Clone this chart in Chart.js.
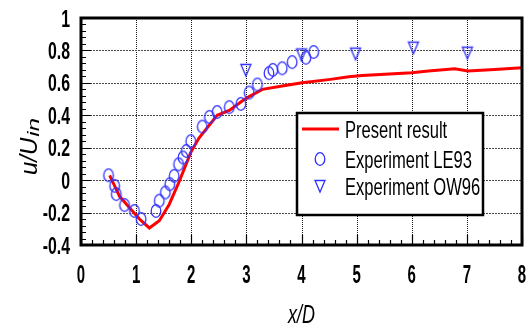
<!DOCTYPE html>
<html>
<head>
<meta charset="utf-8">
<script src="https://cdn.jsdelivr.net/npm/chart.js@4/dist/chart.umd.min.js"></script>
<style>
  html, body { margin: 0; padding: 0; background: #fff; }
  #mycanvas { display: block; }
</style>
</head>
<body>
<canvas id="mycanvas" width="529" height="329"></canvas>
<script>
// present result (solid red curve)
var simX = [0.52, 0.70, 0.88, 1.06, 1.24, 1.42, 1.60, 1.78, 1.99, 2.14, 2.47, 2.69, 2.93, 3.05, 3.29, 3.65, 4.01, 4.49, 4.86, 5.10, 6.00, 6.30, 6.78, 7.02, 7.50, 8.00];
var simY = [0.03, -0.10, -0.17, -0.24, -0.295, -0.25, -0.15, -0.01, 0.17, 0.26, 0.40, 0.43, 0.49, 0.515, 0.56, 0.58, 0.60, 0.62, 0.638, 0.646, 0.663, 0.673, 0.687, 0.673, 0.683, 0.693];

// experiment LE93 (circles)
var le93X = [0.50, 0.61, 0.64, 0.79, 0.97, 1.09, 1.36, 1.42, 1.53, 1.61, 1.69, 1.77, 1.85, 1.91, 1.99, 2.20, 2.33, 2.47, 2.69, 2.90, 3.05, 3.20, 3.41, 3.48, 3.65, 3.83, 4.08, 4.22];
var le93Y = [0.03, -0.035, -0.086, -0.154, -0.19, -0.24, -0.19, -0.127, -0.076, -0.025, 0.026, 0.098, 0.14, 0.18, 0.24, 0.33, 0.39, 0.42, 0.45, 0.47, 0.54, 0.59, 0.66, 0.68, 0.69, 0.728, 0.755, 0.79];

// experiment OW96 (triangles)
var ow96X = [2.99, 4.00, 4.98, 6.03, 7.01];
var ow96Y = [0.68, 0.775, 0.78, 0.817, 0.786];

var xMin = 0, xMax = 8, xStep = 1;
var yMin = -0.4, yMax = 1, yStep = 0.2;
var xTitle = 'x/D';
var yTitle = 'u/U', yTitleSub = 'in';

var SANS = "'Liberation Sans', Arial, sans-serif";
var BLUE = '#3030ff';

function toPoints(xs, ys){
    var pts = [];
    for(var i in xs){
        pts.push({x: xs[i], y: ys[i]});
    }
    return pts;
}

// tall hollow markers (the original picture is stretched vertically)
function makeMarker(kind){
    var c = document.createElement('canvas');
    c.width = 14; c.height = 16;
    var g = c.getContext('2d');
    g.strokeStyle = BLUE;
    g.lineWidth = 1.3;
    g.beginPath();
    if(kind == 'circle'){
        g.ellipse(7, 8, 4.8, 6.3, 0, 0, Math.PI * 2);
    } else {
        g.moveTo(2, 2.5);
        g.lineTo(12, 2.5);
        g.lineTo(7, 14);
        g.closePath();
    }
    g.stroke();
    return c;
}
var circleImg = makeMarker('circle');
var triImg = makeMarker('triangle');

// draw text squeezed horizontally
function squeezeText(ctx, text, x, y, sx, align){
    ctx.save();
    ctx.translate(x, y);
    ctx.scale(sx, 1);
    ctx.textAlign = align;
    ctx.fillText(text, 0, 0);
    ctx.restore();
}

// dotted grid under the data (dots drawn one by one)
var gridLines = {
    id: 'gridLines',
    beforeDatasetsDraw: function(chart){
        var ctx = chart.ctx;
        var ca = chart.chartArea;
        var xs = chart.scales.x, ys = chart.scales.y;
        ctx.save();
        ctx.fillStyle = '#1a1a1a';
        xs.ticks.forEach(function(t){
            var px = Math.round(xs.getPixelForValue(t.value));
            for(var y = Math.round(ca.top); y < ca.bottom; y += 2){
                ctx.fillRect(px, y, 1, 1);
            }
        });
        ctx.fillStyle = '#4a4a4a';
        ys.ticks.forEach(function(t){
            var py = Math.round(ys.getPixelForValue(t.value));
            for(var x = Math.round(ca.left); x < ca.right; x += 3){
                ctx.fillRect(x, py, 2, 1);
            }
        });
        ctx.restore();
    }
};

// box, inward ticks, tick labels, titles and the legend
var decorations = {
    id: 'decorations',
    afterDraw: function(chart){
        var ctx = chart.ctx;
        var ca = chart.chartArea;
        var xs = chart.scales.x, ys = chart.scales.y;
        ctx.save();

        // minor / major ticks pointing inside
        ctx.strokeStyle = '#000';
        ctx.lineWidth = 1.2;
        ctx.beginPath();
        for(var i = 0; i <= 40; i++){
            var px = Math.round(xs.getPixelForValue(i / 5)) + 0.5;
            var len = (i % 5 == 0) ? 10 : 5;
            ctx.moveTo(px, ca.bottom);
            ctx.lineTo(px, ca.bottom - len);
        }
        for(var j = 0; j <= 35; j++){
            var py = Math.round(ys.getPixelForValue(yMin + j * 0.04)) + 0.5;
            var len2 = (j % 5 == 0) ? 10 : 5;
            ctx.moveTo(ca.left, py);
            ctx.lineTo(ca.left + len2, py);
        }
        ctx.stroke();

        // thick frame
        ctx.lineWidth = 3;
        ctx.strokeRect(ca.left, ca.top, ca.right - ca.left, ca.bottom - ca.top);

        // tick labels
        ctx.fillStyle = '#000';
        ctx.textBaseline = 'alphabetic';
        ctx.font = 'bold 25px ' + SANS;
        xs.ticks.forEach(function(t){
            squeezeText(ctx, String(t.value), xs.getPixelForValue(t.value), 283, 0.6, 'center');
        });
        ctx.font = 'bold 24px ' + SANS;
        ys.ticks.forEach(function(t){
            var lbl = String(+t.value.toFixed(1));
            squeezeText(ctx, lbl, 70, ys.getPixelForValue(t.value) + 8.5, 0.66, 'right');
        });

        // x title
        ctx.font = 'italic 25px ' + SANS;
        squeezeText(ctx, xTitle, (ca.left + ca.right) / 2, 323, 0.72, 'center');

        // y title u/U with subscript
        ctx.save();
        ctx.translate(37, 175);
        ctx.rotate(-Math.PI / 2);
        ctx.font = 'italic 24px ' + SANS;
        ctx.textAlign = 'left';
        ctx.fillText(yTitle, 0, 0);
        var mainW = ctx.measureText(yTitle).width;
        ctx.font = 'italic 17px ' + SANS;
        squeezeText(ctx, yTitleSub, mainW + 1, 2, 1.4, 'left');
        ctx.restore();
        ctx.restore();

        // legend box
        ctx.save();
        var lx = 297, ly = 113, lw = 186, lh = 102;
        ctx.fillStyle = '#fff';
        ctx.fillRect(lx, ly, lw, lh);
        ctx.strokeStyle = '#000';
        ctx.lineWidth = 2.5;
        ctx.strokeRect(lx, ly, lw, lh);

        var sets = chart.data.datasets;
        var rowY = [129, 159, 186];
        ctx.font = '24px ' + SANS;
        ctx.textBaseline = 'alphabetic';
        for(var k = 0; k < sets.length; k++){
            var ds = sets[k];
            var cy = rowY[k];
            if(ds.showLine){
                ctx.strokeStyle = ds.borderColor;
                ctx.lineWidth = ds.borderWidth;
                ctx.beginPath();
                ctx.moveTo(302, cy);
                ctx.lineTo(339, cy);
                ctx.stroke();
            } else {
                var img = ds.pointStyle;
                ctx.drawImage(img, 320 - img.width / 2, cy - img.height / 2);
            }
            ctx.fillStyle = '#000';
            squeezeText(ctx, ds.label, 345, cy + 9, 0.69, 'left');
        }
        ctx.restore();
    }
};

var chartData = {
    datasets: [
        {
            label: 'Present result',
            data: toPoints(simX, simY),
            showLine: true,
            borderColor: '#ff0000',
            backgroundColor: '#ff0000',
            borderWidth: 3,
            pointRadius: 0,
            tension: 0,
            order: 3
        },
        {
            label: 'Experiment LE93',
            data: toPoints(le93X, le93Y),
            pointStyle: circleImg,
            pointRadius: 6,
            order: 1
        },
        {
            label: 'Experiment OW96',
            data: toPoints(ow96X, ow96Y),
            pointStyle: triImg,
            pointRadius: 6,
            order: 2
        }
    ]
};

var ctx = document.getElementById("mycanvas");

var chart = new Chart(ctx, {
    type: 'scatter',
    data: chartData,
    options: {
        responsive: false,
        animation: false,
        layout: { padding: { top: 18, right: 5, left: 0, bottom: 0 } },
        plugins: {
            legend: { display: false },
            tooltip: { enabled: false }
        },
        scales: {
            x: {
                type: 'linear',
                min: xMin,
                max: xMax,
                afterFit: function(s){ s.height = 84; },
                ticks: { stepSize: xStep, display: false },
                grid: { display: false },
                border: { display: false }
            },
            y: {
                type: 'linear',
                min: yMin,
                max: yMax,
                afterFit: function(s){ s.width = 81; },
                ticks: { stepSize: yStep, display: false },
                grid: { display: false },
                border: { display: false }
            }
        }
    },
    plugins: [gridLines, decorations]
});
</script>
</body>
</html>
